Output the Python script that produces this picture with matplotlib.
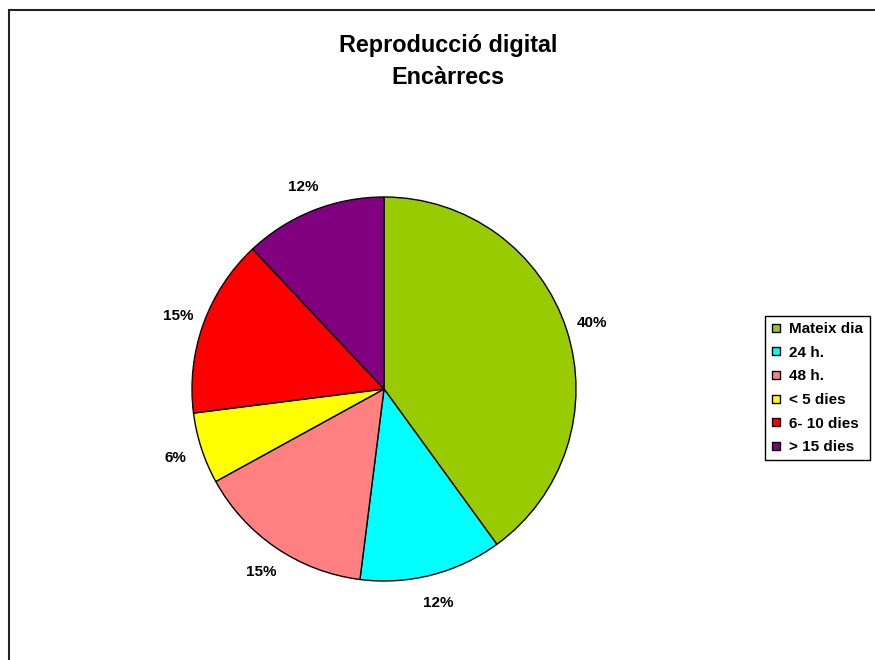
import matplotlib.pyplot as plt
from matplotlib.lines import Line2D
from matplotlib.patches import Rectangle

plt.rcParams['font.family'] = ['Liberation Sans', 'DejaVu Sans']

# data
categories = ['Mateix dia', '24 h.', '48 h.', '< 5 dies', '6- 10 dies', '> 15 dies']
values = [40, 12, 15, 6, 15, 12]
colors = ['#99CC00', '#00FFFF', '#FF8080', '#FFFF00', '#FF0000', '#800080']

fig = plt.figure(figsize=(8.75, 6.6), dpi=100)

# outer chart frame (right and bottom edges run off the picture)
fig.patches.append(Rectangle((8.5 / 875, -0.1), 1.2, (660 - 9.5) / 660 + 0.1,
                             transform=fig.transFigure, fill=False,
                             edgecolor='#222222', linewidth=1.5))

# title
fig.text(448 / 875, 1 - 52 / 660, 'Reproducció digital', ha='center', va='baseline',
         fontsize=16.8, fontweight='bold')
fig.text(448 / 875, 1 - 84 / 660, 'Encàrrecs', ha='center', va='baseline',
         fontsize=16.8, fontweight='bold')

# pie
cx, cy, r = 384, 389, 192
ax = fig.add_axes([(cx - r) / 875, (660 - cy - r) / 660, 2 * r / 875, 2 * r / 660])
wedges, texts = ax.pie(values, colors=colors, startangle=90, counterclock=False,
                       labels=[f'{v}%' for v in values], labeldistance=1.14,
                       wedgeprops=dict(edgecolor='black', linewidth=1))
for t in texts:
    t.set_fontsize(11)
    t.set_fontweight('bold')
    t.set_horizontalalignment('center')
    t.set_verticalalignment('center_baseline')
ax.set_xlim(-1, 1)
ax.set_ylim(-1, 1)
ax.set_aspect('equal')
ax.axis('off')

# legend
handles = [Line2D([], [], linestyle='none', marker='s', markersize=6,
                  markerfacecolor=c, markeredgecolor='black', markeredgewidth=1)
           for c in colors]
leg = fig.legend(handles, categories, loc='upper left',
                 bbox_to_anchor=(765 / 875, 1 - 316 / 660),
                 bbox_transform=fig.transFigure, borderaxespad=0,
                 frameon=True, fancybox=False, framealpha=1,
                 edgecolor='black', handlelength=0.7, handletextpad=0.5,
                 labelspacing=0.63, borderpad=0.4,
                 prop=dict(size=11, weight='bold'))
leg.get_frame().set_linewidth(1)

fig.savefig('out.png', dpi=100)
